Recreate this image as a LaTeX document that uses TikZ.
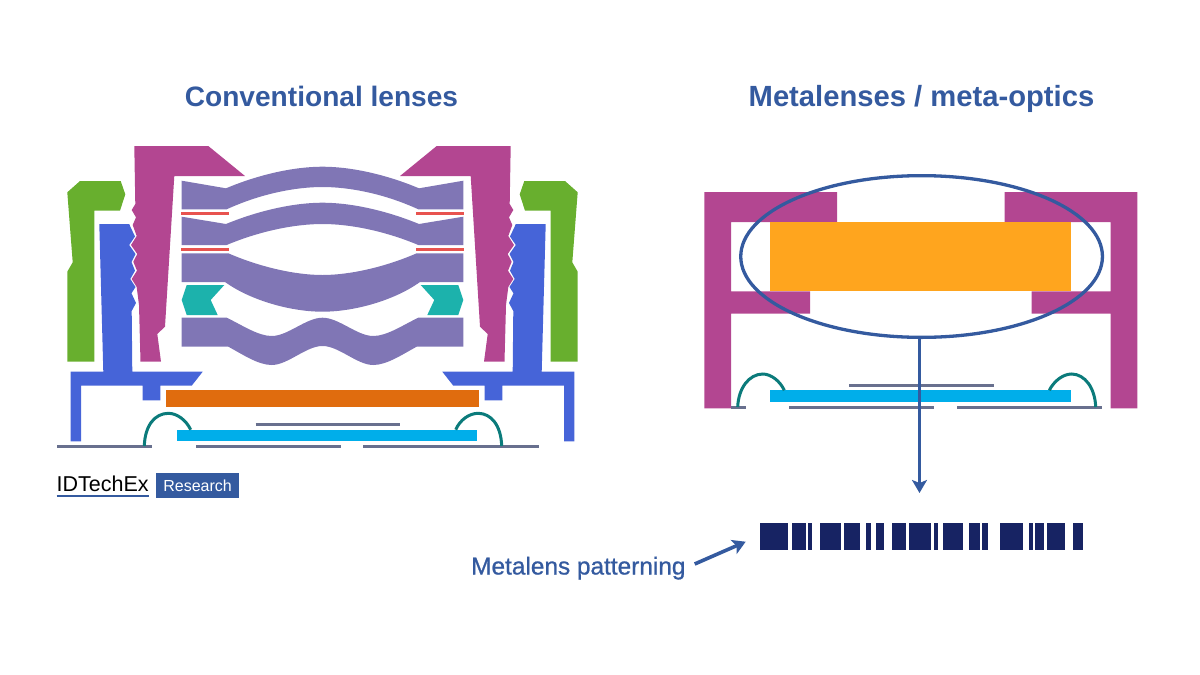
\documentclass[tikz,border=0pt]{standalone}
\usepackage{fontspec}
\setmainfont{Liberation Sans}
\newfontfamily\mediumfont[FakeBold=0.8]{Liberation Sans}
\usepackage{xcolor}
\usetikzlibrary{arrows.meta,shapes.geometric}

\definecolor{housingcol}{HTML}{B34691}
\definecolor{covercol}{HTML}{68AF2E}
\definecolor{barrelcol}{HTML}{4664D8}
\definecolor{lenscol}{HTML}{8076B5}
\definecolor{stopcol}{HTML}{E8534F}
\definecolor{spacercol}{HTML}{1CB2AC}
\definecolor{filtercol}{HTML}{E06C0E}
\definecolor{sensorcol}{HTML}{00AEEA}
\definecolor{boardcol}{HTML}{68708E}
\definecolor{wirecol}{HTML}{0B7B7B}
\definecolor{metacol}{HTML}{FFA51E}
\definecolor{titleblue}{HTML}{345A9F}
\definecolor{barcol}{HTML}{172363}

\begin{document}
\begin{tikzpicture}[
    x=1pt, y=-1pt,
    title/.style={anchor=base, text=titleblue, inner sep=0pt},
    trace/.style={draw=boardcol, line width=3pt},
    bond/.style={draw=wirecol, line width=3pt},
    arrow/.style={draw=titleblue, line width=3.6pt, -{Stealth[length=13pt, width=15pt, inset=3pt]}}
]
\useasboundingbox (0,0) rectangle (1200,675);

\node[title, font=\fontsize{28.1}{28}\selectfont\bfseries] (conventional) at (321.5,106.5) {Conventional lenses};
\node[title, font=\fontsize{29.2}{29}\selectfont\bfseries] (metalenses) at (921.5,106.5) {Metalenses / meta-optics};

\foreach \mirror in {1,-1} {
\begin{scope}[shift={(322.5,0)}, xscale=\mirror, shift={(-322.5,0)}]
\fill[covercol] (67.3,192.3) -- (80,181) -- (120.7,181) -- (125.3,194.3) -- (120,210.7) -- (94.3,210.7) -- (94.3,361.7) -- (67.3,361.7) -- (67.3,271.7) -- (72.7,262.3) -- cycle;
\fill[housingcol] (134.3,146) -- (208.3,146) -- (245,176) -- (174.3,176) -- (165,326.7) -- (157.3,334) -- (161,361.7) -- (140.5,361.7) -- (139,305) -- (136.7,287) -- (131.7,279) -- (137,270.7) -- (133.3,261.7) -- (137.3,254) -- (131,245) -- (136.7,236) -- (132.7,225) -- (136,217.3) -- (131.7,210) -- (135.3,204) -- cycle;
\fill[barrelcol] (99.3,224) -- (129.3,224) -- (130.5,227) -- (135,236.5) -- (129.2,245) -- (135.5,254) -- (131.5,262) -- (135,270.7) -- (130.3,279) -- (135.5,287) -- (131.5,293.3) -- (136,303) -- (131.7,311) -- (132.3,371.7) -- (202.7,371.7) -- (191.7,385.7) -- (160.3,385.7) -- (160.3,400.3) -- (142.7,400.3) -- (142.7,385.7) -- (81,385.7) -- (81,441.3) -- (70.7,441.3) -- (70.7,371.7) -- (103.3,371.7) -- cycle;
\fill[spacercol] (186.7,285) -- (224.3,285) -- (210.7,300) -- (217.7,315) -- (186.7,315) -- (181.7,300) -- cycle;
\fill[stopcol] (180.7,211.7) rectangle (229,215);
\fill[stopcol] (180.7,247.7) rectangle (229,251);
\end{scope}
}

\fill[lenscol] (181.7,180.7) -- (226,188.3) .. controls (260,174) and (295,166.7) .. (322.5,166.7) .. controls (350,166.7) and (385,174) .. (419,188.3) -- (463.3,180.7) -- (463.3,209.3) -- (418.3,209.3) .. controls (385,194) and (350,187) .. (322.5,187) .. controls (295,187) and (260,194) .. (226.7,209.3) -- (181.7,209.3) -- cycle;
\fill[lenscol] (181.7,216.7) -- (226,224) .. controls (260,210) and (295,202.7) .. (322.5,202.7) .. controls (350,202.7) and (385,210) .. (419,224) -- (463.3,216.7) -- (463.3,245) -- (418.3,245) .. controls (385,231) and (350,224) .. (322.5,224) .. controls (295,224) and (260,231) .. (226.7,245) -- (181.7,245) -- cycle;
\fill[lenscol] (181.7,253.3) -- (228.3,253.3) .. controls (260,267) and (295,275) .. (322.5,275) .. controls (350,275) and (385,267) .. (416.7,253.3) -- (463.3,253.3) -- (463.3,282) -- (420,282) .. controls (395,300) and (355,311.7) .. (322.5,311.7) .. controls (290,311.7) and (250,300) .. (225,282) -- (181.7,282) -- cycle;
\fill[lenscol] (181.7,317.7) -- (226.7,317.7) .. controls (242,325) and (258,336) .. (271.7,336) .. controls (288,336) and (306,317.7) .. (322.5,317.7) .. controls (339,317.7) and (357,336) .. (373.3,336) .. controls (387,336) and (403,325) .. (418.3,317.7) -- (463.3,317.7) -- (463.3,346.7) -- (416.7,346.7) .. controls (403,354) and (387,365) .. (373.3,365) .. controls (357,365) and (339,346) .. (322.5,346) .. controls (306,346) and (288,365) .. (271.7,365) .. controls (258,365) and (242,354) .. (228.3,346.7) -- (181.7,346.7) -- cycle;

\fill[filtercol] (165.7,389.7) rectangle (478.7,407);
\fill[sensorcol] (176.7,429.7) rectangle (477,441.3);
\draw[trace] (57.3,446) -- (152,446);
\draw[trace] (196,446) -- (340.7,446);
\draw[trace] (363.3,446) -- (538.7,446);
\draw[trace] (255.7,424.7) -- (400.3,424.7);
\draw[bond] (144.3,446) .. controls (145,425) and (155,413.5) .. (168.3,413.3) .. controls (177,413.3) and (186,420) .. (190.7,429.7);
\draw[bond] (501.7,446) .. controls (501,425) and (491,413.5) .. (478.3,413.3) .. controls (469,413.3) and (460,420) .. (455.7,429.7);

\node[anchor=base west, inner sep=0pt, font=\fontsize{21.5}{22}\selectfont] (idtechex) at (56.5,491.5) {IDTechEx};
\draw[titleblue, line width=2pt] (idtechex.south west |- 0,495.7) -- (idtechex.south east |- 0,495.7);
\node[anchor=north west, fill=titleblue, text=white, minimum width=82.7pt, minimum height=25pt, inner sep=0pt, font=\fontsize{16}{16}\selectfont] (research) at (156,472.7) {Research};

\foreach \mirror in {1,-1} {
\begin{scope}[shift={(920.8,0)}, xscale=\mirror, shift={(-920.8,0)}]
\fill[housingcol] (704.3,192) -- (837,192) -- (837,222) -- (731,222) -- (731,291.3) -- (810,291.3) -- (810,313.7) -- (731,313.7) -- (731,408.3) -- (704.3,408.3) -- cycle;
\end{scope}
}
\fill[metacol] (770.3,222) rectangle (1071.3,291.3);
\fill[sensorcol] (770.3,390.3) rectangle (1071,402.3);
\draw[trace] (849,385.3) -- (994,385.3);
\draw[trace] (731,407) -- (746,407);
\draw[trace] (789.3,407) -- (934.3,407);
\draw[trace] (957.3,407) -- (1102.3,407);
\draw[bond] (737.7,407) .. controls (738.5,388) and (749,374.2) .. (762.7,374) .. controls (771,374) and (780,381) .. (784.3,390.3);
\draw[bond] (1095.7,407) .. controls (1095,388) and (1085,374.2) .. (1071.7,374) .. controls (1063,374) and (1054,381) .. (1049.3,390.3);

\node[ellipse, draw=titleblue, line width=3.3pt, minimum width=361.7pt, minimum height=161.7pt, inner sep=0pt] (metalens) at (921.6,256.5) {};
\coordinate (lenstip) at (919.5,493);
\draw[arrow] (metalens.south -| lenstip) -- (lenstip);

\foreach \a/\b in {760.3/788, 792.3/805.7, 807.7/812, 819.7/841, 843.7/859.7, 866/870.7, 876/884.3, 892.3/906, 908.7/931.3, 933.7/937.7, 942.7/963.3, 968.7/980.3, 982/988.3, 1000.3/1023, 1029.3/1033.3, 1035/1044, 1047.3/1065.3, 1073/1082.7}
    \fill[barcol] (\a,522.7) rectangle (\b,550);

\node[anchor=base west, inner sep=0pt, text=titleblue, font=\fontsize{24.4}{24}\selectfont\mediumfont] (patterning) at (471,574.5) {Metalens patterning};
\coordinate (patterntip) at (745.7,541.7);
\coordinate (patternstart) at (694.7,564);
\draw[arrow] (patternstart) -- (patterntip);
\end{tikzpicture}
\end{document}
